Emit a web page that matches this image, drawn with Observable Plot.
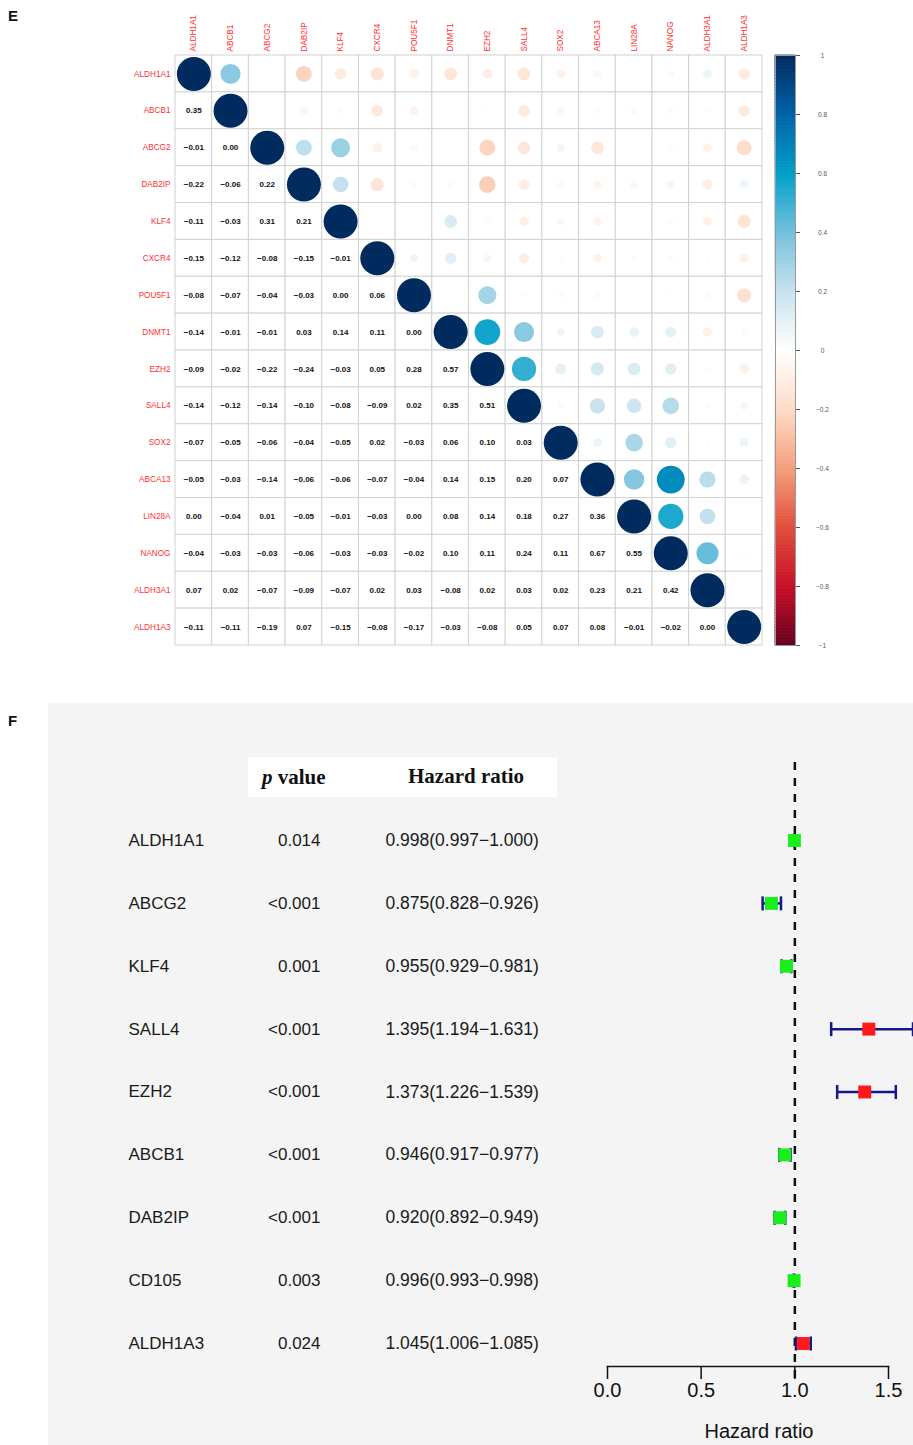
<!DOCTYPE html>
<html><head><meta charset="utf-8">
<script src="https://cdn.jsdelivr.net/npm/d3@7"></script>
<script src="https://cdn.jsdelivr.net/npm/@observablehq/plot@0.6"></script>
<style>
html,body{margin:0;background:#fff;overflow:hidden;}
#page{position:relative;width:913px;height:1445px;overflow:hidden;font-family:"Liberation Sans",Arial,sans-serif;}
#page svg{max-width:none !important;}
.abs{position:absolute;}
.panel{font-weight:bold;font-size:15px;color:#111;}
.hdr{font-family:"Liberation Serif","Times New Roman",serif;font-weight:bold;font-size:21px;line-height:40px;color:#111;white-space:nowrap;}
</style></head><body><div id="page">
<div class="abs panel" style="left:8px;top:7px">E</div>
<div class="abs panel" style="left:8px;top:712px">F</div>
<div class="abs" style="left:48px;top:703px;width:865px;height:742px;background:#f4f4f4"></div>
<div class="abs" style="left:248px;top:757px;width:309px;height:40px;background:#fff"></div>
<div class="abs hdr" style="left:262px;top:757px"><i>p</i> value</div>
<div class="abs hdr" style="left:408px;top:756px">Hazard ratio</div>
<div class="abs" id="corr" style="left:0;top:0;width:913px"></div>
<div class="abs" id="bar" style="left:760px;top:0;width:153px"></div>
<div class="abs" id="table" style="left:0;top:703px;width:600px"></div>
<div class="abs" id="forest" style="left:0;top:703px;width:913px"></div>
</div>
<script>
// ---------- Panel E data ----------
const genes = ["ALDH1A1","ABCB1","ABCG2","DAB2IP","KLF4","CXCR4","POU5F1","DNMT1","EZH2","SALL4","SOX2","ABCA13","LIN28A","NANOG","ALDH3A1","ALDH1A3"];
const lowerTriangle = [
  [],
  [0.35],
  [-0.01, 0.00],
  [-0.22, -0.06, 0.22],
  [-0.11, -0.03, 0.31, 0.21],
  [-0.15, -0.12, -0.08, -0.15, -0.01],
  [-0.08, -0.07, -0.04, -0.03, 0.00, 0.06],
  [-0.14, -0.01, -0.01, 0.03, 0.14, 0.11, 0.00],
  [-0.09, -0.02, -0.22, -0.24, -0.03, 0.05, 0.28, 0.57],
  [-0.14, -0.12, -0.14, -0.10, -0.08, -0.09, 0.02, 0.35, 0.51],
  [-0.07, -0.05, -0.06, -0.04, -0.05, 0.02, -0.03, 0.06, 0.10, 0.03],
  [-0.05, -0.03, -0.14, -0.06, -0.06, -0.07, -0.04, 0.14, 0.15, 0.20, 0.07],
  [0.00, -0.04, 0.01, -0.05, -0.01, -0.03, 0.00, 0.08, 0.14, 0.18, 0.27, 0.36],
  [-0.04, -0.03, -0.03, -0.06, -0.03, -0.03, -0.02, 0.10, 0.11, 0.24, 0.11, 0.67, 0.55],
  [0.07, 0.02, -0.07, -0.09, -0.07, 0.02, 0.03, -0.08, 0.02, 0.03, 0.02, 0.23, 0.21, 0.42],
  [-0.11, -0.11, -0.19, 0.07, -0.15, -0.08, -0.17, -0.03, -0.08, 0.05, 0.07, 0.08, -0.01, -0.02, 0.00]
];
const legendTicks = [-1, -0.8, -0.6, -0.4, -0.2, 0, 0.2, 0.4, 0.6, 0.8, 1];
const colorStops = [-1, -0.8, -0.6, -0.4, -0.2, 0, 0.2, 0.4, 0.6, 0.8, 1];
const colorRange = ["#67001F","#C8102A","#E0503C","#F5A07C","#FDDBC7","#FFFFFF","#C8E2EE","#74C0DC","#00A0C8","#0062A8","#002B5E"];

// ---------- Panel F data ----------
const forestGenes = ["ALDH1A1","ABCG2","KLF4","SALL4","EZH2","ABCB1","DAB2IP","CD105","ALDH1A3"];
const pValues = ["0.014","<0.001","0.001","<0.001","<0.001","<0.001","<0.001","0.003","0.024"];
const hazardRatio = [0.998, 0.875, 0.955, 1.395, 1.373, 0.946, 0.920, 0.996, 1.045];
const ciLower = [0.997, 0.828, 0.929, 1.194, 1.226, 0.917, 0.892, 0.993, 1.006];
const ciUpper = [1.000, 0.926, 0.981, 1.631, 1.539, 0.977, 0.949, 0.998, 1.085];
const hrTicks = [0, 0.5, 1, 1.5];

// ---------- build E ----------
const cells = [];
genes.forEach((rg, i) => genes.forEach((cg, j) => {
  const v = i === j ? 1 : (j < i ? lowerTriangle[i][j] : lowerTriangle[j][i]);
  cells.push({row: rg, col: cg, v, part: j < i ? "lower" : "upper"});
}));
const upper = cells.filter(d => d.part === "upper");
const lower = cells.filter(d => d.part === "lower");
const fmt2 = d3.format(".2f");
const colorOpts = {type: "linear", domain: colorStops, range: colorRange, interpolate: "rgb", clamp: true};
const sans = "Liberation Sans, Arial, sans-serif";

const corr = Plot.plot({
  width: 913, height: 660,
  marginLeft: 175, marginRight: 151, marginTop: 55, marginBottom: 15,
  style: {background: "transparent", fontFamily: sans},
  x: {domain: genes, padding: 0, round: false, axis: null},
  y: {domain: genes, padding: 0, round: false, axis: null},
  r: {type: "sqrt", domain: [0, 1], range: [0, 17]},
  color: colorOpts,
  marks: [
    Plot.cell(cells, {x: "col", y: "row", fill: "white", stroke: "#d2d2d2", strokeWidth: 1, inset: 0}),
    Plot.dot(upper, {x: "col", y: "row", r: d => Math.abs(d.v), fill: "v"}),
    Plot.text(lower, {x: "col", y: "row", text: d => fmt2(d.v), fontSize: 8, fontWeight: "bold", fill: "#111"}),
    Plot.axisX({anchor: "top", tickRotate: -90, tickSize: 0, tickPadding: 4, fontSize: 8.2, color: "#ff3030", label: null}),
    Plot.axisY({anchor: "left", tickSize: 0, tickPadding: 5, fontSize: 8.2, color: "#ff3030", label: null})
  ]
});
document.getElementById("corr").append(corr);

const legendSteps = d3.range(200).map(i => -1 + i * 0.01);
const bar = Plot.plot({
  width: 153, height: 660,
  marginLeft: 15, marginRight: 118, marginTop: 55, marginBottom: 15,
  style: {background: "transparent", fontFamily: sans},
  y: {domain: [-1, 1], axis: null},
  color: colorOpts,
  marks: [
    Plot.rect(legendSteps, {y1: d => d, y2: d => d + 0.01, fill: d => d + 0.005, stroke: d => d + 0.005, strokeWidth: 0.8}),
    Plot.frame({stroke: "#999"}),
    Plot.axisY({anchor: "right", ticks: legendTicks, tickFormat: d3.format("~g"), tickSize: 4, tickPadding: 23, textAnchor: "middle", fontSize: 6.5, color: "#555", label: null})
  ]
});
document.getElementById("bar").append(bar);

// ---------- build F ----------
const rows = forestGenes.map((g, i) => ({gene: g, p: pValues[i], hr: hazardRatio[i], lo: ciLower[i], hi: ciUpper[i]}));
const f3 = d3.format(".3f");
const yOpts = {type: "point", domain: forestGenes, range: [137, 640], padding: 0, round: false, axis: null};

const table = Plot.plot({
  width: 600, height: 742, margin: 0,
  style: {background: "transparent", fontFamily: sans},
  x: {type: "point", domain: ["gene", "p", "hr"], range: [128, 385], padding: 0, round: false, axis: null},
  y: yOpts,
  marks: [
    Plot.text(rows, {x: () => "gene", y: "gene", text: "gene", textAnchor: "start", fontSize: 17, fill: "#1a1a1a"}),
    Plot.text(rows, {x: () => "p", y: "gene", text: "p", textAnchor: "end", dx: 63.5, fontSize: 17, fill: "#1a1a1a"}),
    Plot.text(rows, {x: () => "hr", y: "gene", text: d => `${f3(d.hr)}(${f3(d.lo)}\u2212${f3(d.hi)})`, textAnchor: "start", fontSize: 17.5, fill: "#1a1a1a"})
  ]
});
document.getElementById("table").append(table);

const navy = "#16168f";
const capSymbol = {draw(context, size) { const h = Math.sqrt(size / Math.PI); context.moveTo(0, -h); context.lineTo(0, h); }};
const forest = Plot.plot({
  width: 913, height: 742,
  marginLeft: 607, marginRight: 25, marginTop: 59, marginBottom: 79,
  style: {background: "transparent", fontFamily: sans},
  x: {domain: [0, 1.5]},
  y: yOpts,
  color: {type: "identity"},
  marks: [
    Plot.frame({anchor: "bottom", strokeWidth: 1.5, stroke: "#111"}),
    Plot.axisX({ticks: hrTicks, tickFormat: d => d.toFixed(1), tickSize: 13, tickPadding: 3, fontSize: 20, strokeWidth: 1.5, color: "#111", label: null}),
    Plot.ruleX([1], {stroke: "#111", strokeWidth: 2.5, strokeDasharray: "8,8", insetBottom: -14}),
    Plot.ruleY(rows, {y: "gene", x1: "lo", x2: "hi", stroke: navy, strokeWidth: 2.5}),
    Plot.dot(rows, {x: "lo", y: "gene", symbol: capSymbol, r: 7, stroke: navy, strokeWidth: 2.5}),
    Plot.dot(rows, {x: "hi", y: "gene", symbol: capSymbol, r: 7, stroke: navy, strokeWidth: 2.5}),
    Plot.dot(rows, {x: "hr", y: "gene", symbol: "square", r: 7.3, fill: d => d.hr > 1 ? "#ff1a1a" : "#1aef1a"}),
    Plot.text(["Hazard ratio"], {frameAnchor: "bottom", lineAnchor: "middle", dy: 65, dx: 11, fontSize: 20, fill: "#111"})
  ]
});
document.getElementById("forest").append(forest);
</script>
</body></html>
